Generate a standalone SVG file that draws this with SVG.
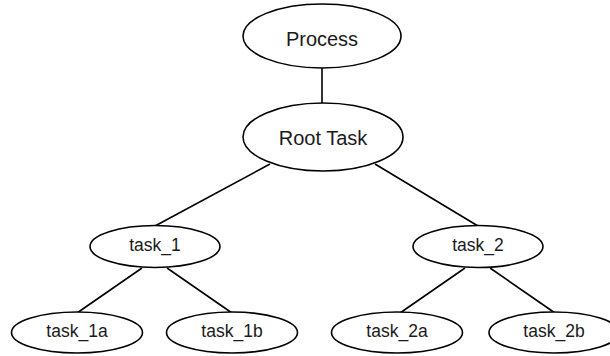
<svg xmlns="http://www.w3.org/2000/svg" width="610" height="356" viewBox="0 0 610 356">
<style>
.n ellipse{fill:#fff;stroke:#000;stroke-width:1.6}
.n text{font-family:"Liberation Sans",Arial,sans-serif;fill:#1a1a1a;text-anchor:middle;dominant-baseline:central}
.big{font-size:20px}
.sm{font-size:17.5px}
#edges line{stroke:#000;stroke-width:1.6}
</style>
<rect width="610" height="356" fill="#fff"/>
<g id="edges">
<line x1="322" y1="68" x2="322" y2="103"/>
<line x1="270" y1="164" x2="155" y2="226"/>
<line x1="375" y1="164" x2="478" y2="226"/>
<line x1="142" y1="268" x2="77" y2="313"/>
<line x1="167" y1="268" x2="232" y2="313"/>
<line x1="465" y1="268" x2="400" y2="313"/>
<line x1="490" y1="268" x2="555" y2="313"/>
</g>
<g id="process" class="n"><ellipse cx="322" cy="36" rx="79" ry="32"/><text class="big" x="322" y="39">Process</text></g>
<g id="root" class="n"><ellipse cx="323" cy="137" rx="80" ry="34"/><text class="big" x="323" y="138">Root Task</text></g>
<g id="task_1" class="n"><ellipse cx="155" cy="246.5" rx="65" ry="21"/><text class="sm" x="155" y="245">task_1</text></g>
<g id="task_2" class="n"><ellipse cx="478" cy="246.5" rx="65" ry="21"/><text class="sm" x="478" y="245">task_2</text></g>
<g id="task_1a" class="n"><ellipse cx="77" cy="332.5" rx="65.5" ry="20.5"/><text class="sm" x="77" y="331">task_1a</text></g>
<g id="task_1b" class="n"><ellipse cx="232" cy="332.5" rx="65.5" ry="20.5"/><text class="sm" x="232" y="331">task_1b</text></g>
<g id="task_2a" class="n"><ellipse cx="397" cy="332.5" rx="65.5" ry="20.5"/><text class="sm" x="397" y="331">task_2a</text></g>
<g id="task_2b" class="n"><ellipse cx="554" cy="332.5" rx="65" ry="20.5"/><text class="sm" x="554" y="331">task_2b</text></g>
</svg>
